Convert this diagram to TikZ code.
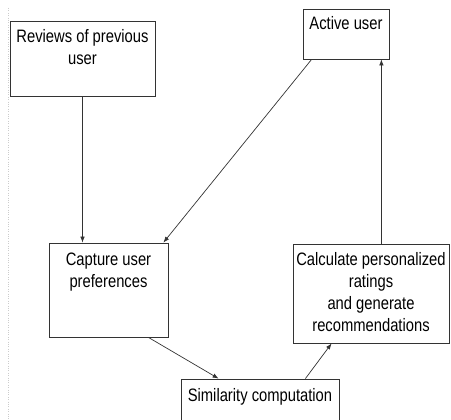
\documentclass[tikz,border=0pt]{standalone}
\usepackage{fontspec}
\setmainfont{Liberation Sans}
\usepackage{graphicx}
\usetikzlibrary{arrows.meta}

% text at the top of a box: width, height, top padding, text
\newcommand{\boxtext}[4]{\scalebox{0.82}[1]{\parbox[c][#2][t]{\dimexpr #1*100/82\relax}{\centering\fontsize{18}{22}\selectfont\vspace*{#3}#4}}}

\begin{document}
\begin{tikzpicture}[x=1pt,y=-1pt,
  box/.style={draw=black!80,line width=0.8pt,inner sep=0pt},
  arrow/.style={-{Latex[length=6pt,width=4.5pt]},line width=0.7pt,draw=black!80}]
\useasboundingbox (0,0) rectangle (451,420);
\clip (0,0) rectangle (451,420);

% faint margin line
\draw[dotted,gray!40] (8.5,8) -- (8.5,420);

% Boxes
\node[box] (reviews) at (82.5,58.5) {\boxtext{145pt}{75pt}{8pt}{Reviews of previous\\user}};
\node[box] (active) at (346,34) {\boxtext{86pt}{50pt}{7pt}{Active user}};
\node[box] (capture) at (108.5,290) {\boxtext{119pt}{94pt}{9.5pt}{Capture user\\preferences}};
\node[box] (calc) at (371,293.5) {\boxtext{156pt}{99pt}{8.5pt}{Calculate personalized\\ratings\\and generate\\recommendations}};
\node[box] (simil) at (260,405) {\boxtext{158pt}{52pt}{9pt}{Similarity computation}};

% Connectors
\coordinate (aup) at ([xshift=-8pt]active.south east);
\coordinate (adown) at ([xshift=9pt]active.south west);
\draw[arrow] (reviews.south) -- (reviews.south |- capture.north);
\draw[arrow] (adown) -- ([xshift=-5pt]capture.north east);
\draw[arrow] (calc.north -| aup) -- (aup);
\draw[arrow] ([xshift=-20pt]capture.south east) -- ([xshift=38pt]simil.north west);
\draw[arrow] ([xshift=-34pt]simil.north east) -- ([xshift=39pt]calc.south west);

\end{tikzpicture}
\end{document}
